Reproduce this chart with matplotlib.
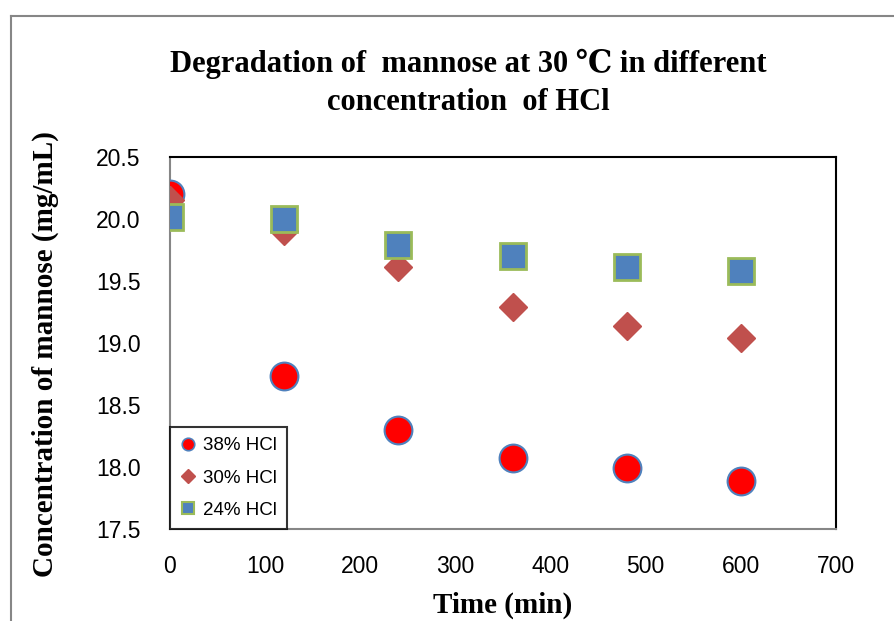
import matplotlib
matplotlib.use('Agg')
import matplotlib.pyplot as plt
from matplotlib.lines import Line2D
from matplotlib.ticker import FormatStrFormatter, MultipleLocator

# data
time_min = [0, 120, 240, 360, 480, 600]
hcl_38 = [20.20, 18.73, 18.30, 18.07, 17.99, 17.89]
hcl_30 = [20.15, 19.90, 19.61, 19.29, 19.14, 19.04]
hcl_24 = [20.02, 20.00, 19.79, 19.70, 19.61, 19.58]
labels = ['38% HCl', '30% HCl', '24% HCl']

serif = ['Liberation Serif', 'DejaVu Serif']
sans = ['Liberation Sans', 'DejaVu Sans']

fig = plt.figure(figsize=(8.95, 6.21), dpi=100)
ax = fig.add_axes([170 / 895, 92 / 621, 666 / 895, 372 / 621])

ax.plot(time_min, hcl_38, 'o', ms=20, mfc='#FF0000', mec='#4F81BD', mew=1.5,
        label=labels[0], zorder=3)
ax.plot(time_min, hcl_30, 'D', ms=14, mfc='#C0504D', mec='#C0504D', mew=1,
        label=labels[1], zorder=4)
ax.plot(time_min, hcl_24, 's', ms=19, mfc='#4F81BD', mec='#9BBB59', mew=2,
        label=labels[2], zorder=5)

ax.set_xlim(0, 700)
ax.set_ylim(17.5, 20.5)
ax.xaxis.set_major_locator(MultipleLocator(100))
ax.yaxis.set_major_locator(MultipleLocator(0.5))
ax.yaxis.set_major_formatter(FormatStrFormatter('%.1f'))
ax.tick_params(length=0, labelsize=16.5)
ax.tick_params(axis='y', pad=21)
ax.tick_params(axis='x', pad=19)
for lab in ax.get_xticklabels() + ax.get_yticklabels():
    lab.set_family(sans)

for side in ['top', 'right']:
    ax.spines[side].set_color('black')
    ax.spines[side].set_linewidth(1.5)
for side in ['left', 'bottom']:
    ax.spines[side].set_color('#868686')
    ax.spines[side].set_linewidth(1.5)

ax.set_xlabel('Time (min)', family=serif, fontweight='bold', fontsize=21)
ax.set_ylabel('Concentration of mannose (mg/mL)', family=serif, fontweight='bold',
              fontsize=21)
ax.xaxis.set_label_coords((503 - 170) / 666, -76 / 372)
ax.xaxis.label.set_va('center')
ax.yaxis.set_label_coords(-125 / 666, (529 - 354) / 372)
ax.yaxis.label.set_va('center')

fig.text(0.523, 0.867, 'Degradation of  mannose at 30 \u2103 in different\nconcentration  of HCl',
         ha='center', va='center', family=serif, fontweight='bold', fontsize=22,
         linespacing=1.4)

leg_handles = [
    Line2D([], [], ls='', marker='o', ms=9, mfc='#FF0000', mec='#4F81BD', mew=1.2),
    Line2D([], [], ls='', marker='D', ms=7, mfc='#C0504D', mec='#C0504D'),
    Line2D([], [], ls='', marker='s', ms=9, mfc='#4F81BD', mec='#9BBB59', mew=1.5),
]
leg = ax.legend(leg_handles, labels, loc='lower left', borderaxespad=0,
                prop={'family': sans, 'size': 13.5}, frameon=True, fancybox=False,
                labelspacing=0.8, handlelength=0.8, handletextpad=0.4,
                borderpad=0.55)
leg.get_frame().set_edgecolor('black')
leg.get_frame().set_linewidth(1.5)

# outer chart-area frame (only left and top edges are visible)
fig.add_artist(Line2D([11 / 895, 11 / 895], [0, 1 - 16 / 621], color='#868686', lw=1.5))
fig.add_artist(Line2D([11 / 895, 1], [1 - 16 / 621, 1 - 16 / 621], color='#868686', lw=1.5))

fig.savefig('out.png', dpi=100)
